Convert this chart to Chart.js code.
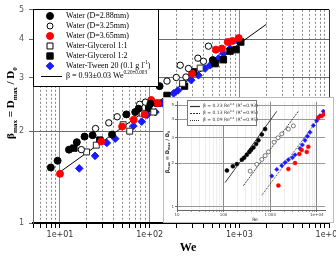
<!DOCTYPE html>
<html>
<head>
<meta charset="utf-8">
<script src="https://cdn.jsdelivr.net/npm/chart.js"></script>
<style>
  html, body { margin: 0; padding: 0; background: #fff; }
  #wrap { position: relative; width: 336px; height: 256px; overflow: hidden; }
  #main { position: absolute; left: 0; top: 0; }
  #inset { position: absolute; left: 163px; top: 97px; }
</style>
</head>
<body>
<div id="wrap">
  <canvas id="main" width="336" height="256"></canvas>
  <canvas id="inset" width="171" height="126"></canvas>
</div>
<script>
// ---- main chart data (We vs beta) ----
const weWater288 = [7.9, 9.4, 12.6, 15.4, 18.8, 23.1, 38, 55, 69, 75.5, 102, 129, 506]
const betaWater288 = [1.52, 1.60, 1.74, 1.84, 1.92, 1.94, 1.95, 2.27, 2.31, 2.37, 2.46, 2.81, 3.42]
const weWater325 = [17.3, 24.9, 35, 43.4, 77.4, 89.6, 156, 198, 219, 254, 271, 345, 398, 452]
const betaWater325 = [1.74, 2.04, 2.13, 2.23, 2.45, 2.49, 2.92, 3.00, 3.29, 3.01, 3.21, 3.47, 3.39, 3.80]
const weWater365 = [10, 28.8, 49.3, 66.4, 87.9, 104, 123, 296, 547, 637, 743, 836, 984]
const betaWater365 = [1.45, 1.85, 2.07, 2.18, 2.27, 2.53, 2.47, 3.09, 3.70, 3.73, 3.92, 3.95, 4.04]
const weGly11 = [19.8, 25.4, 50.6, 59.9, 82.4, 111, 233, 366]
const betaGly11 = [1.71, 1.80, 2.10, 2.00, 2.29, 2.31, 2.87, 3.22]
const weGly12 = [14.3, 27.8, 97.5, 123, 156, 245, 308, 537, 664, 788, 918, 1038]
const betaGly12 = [1.76, 1.87, 2.37, 2.47, 2.62, 2.81, 3.13, 3.33, 3.43, 3.66, 3.70, 3.92]
const weTween = [16.4, 24.6, 33.3, 41.3, 65.9, 81.5, 93.6, 116, 139, 185, 207, 239, 291, 350, 416, 473, 585, 664, 788, 975]
const betaTween = [1.51, 1.66, 1.83, 1.89, 2.08, 2.15, 2.26, 2.31, 2.47, 2.66, 2.72, 2.83, 2.94, 3.05, 3.21, 3.29, 3.46, 3.59, 3.73, 3.94]
const weFit = [10, 2000]
const betaFit = [1.47, 4.48]

const xMajor = [10, 100, 1000, 10000]
const xTickLabels = ['1e+01', '1e+02', '1e+03', '1e+04']
const yTicks = [1, 2, 3, 4, 5]

// ---- inset data (Re vs beta) ----
const reGroup1 = [118, 158, 193, 247, 276, 315, 359, 390, 437, 499, 558, 661, 778]
const betaGroup1 = [1.78, 1.90, 1.97, 2.11, 2.18, 2.28, 2.39, 2.47, 2.56, 2.71, 2.87, 3.15, 3.43]
const reGroup2 = [372, 516, 661, 778, 915, 1211, 1474, 1770, 2455, 3140]
const betaGroup2 = [1.76, 1.96, 2.12, 2.25, 2.39, 2.79, 2.99, 3.18, 3.43, 3.61]
const reBlue = [1081, 1384, 1770, 2084, 2455, 3000, 3412, 4365, 4900, 5585, 6300, 7145, 8414, 9954, 11730, 13770]
const betaBlue = [1.63, 1.81, 1.92, 2.02, 2.11, 2.18, 2.28, 2.52, 2.67, 2.87, 3.06, 3.26, 3.63, 3.92, 4.24, 4.55]
const reRed = [1500, 2455, 3412, 4217, 4753, 6081, 6577, 10770, 12730, 14500]
const betaRed = [1.40, 1.82, 2.00, 2.31, 2.46, 2.39, 2.59, 4.11, 4.22, 4.35]
const reLine1 = [108, 1384]
const betaLine1 = [1.47, 4.55]
const reLine2 = [267, 4018]
const betaLine2 = [1.40, 4.55]
const reLine3 = [661, 15000]
const betaLine3 = [1.20, 4.67]

const insetXMajor = [10, 100, 1000, 10000]
const insetXLabels = ['10', '100', '1 000', '1e+04']
const insetYTicks = [1, 2, 3, 4, 5]

const pts = (xs, ys) => xs.map((x, i) => ({x, y: ys[i]}))
const isMajor = v => xMajor.some(m => Math.abs(m - v) < 1e-6)

// minor ticks of every decade between lo and hi
function logTicks(lo, hi) {
  const out = []
  for (let d = Math.pow(10, Math.floor(Math.log10(lo))); d <= hi; d *= 10) {
    for (let k = 1; k < 10; k++) {
      const v = k * d
      if (v >= lo - 1e-9 && v <= hi + 1e-9) out.push(v)
    }
  }
  return out
}

// text with sub/superscripts
function richWidth(ctx, parts, size, family, weight) {
  let w = 0
  for (const p of parts) {
    ctx.font = (weight || '') + ' ' + (p.s ? size * 0.65 : size) + 'px ' + family
    w += ctx.measureText(p.t).width
  }
  return w
}
function drawRich(ctx, parts, x, y, size, family, weight) {
  let cx = x
  for (const p of parts) {
    ctx.font = (weight || '') + ' ' + (p.s ? size * 0.65 : size) + 'px ' + family
    const dy = p.s === 'sup' ? -size * 0.38 : p.s === 'sub' ? size * 0.28 : 0
    ctx.fillText(p.t, cx, y + dy)
    cx += ctx.measureText(p.t).width
  }
}

function marker(ctx, style, x, y, r, fill, stroke) {
  ctx.save()
  ctx.fillStyle = fill
  ctx.strokeStyle = stroke
  ctx.lineWidth = 1
  ctx.beginPath()
  if (style === 'circle') ctx.arc(x, y, r, 0, Math.PI * 2)
  else if (style === 'rect') { const s = r * Math.SQRT1_2; ctx.rect(x - s, y - s, 2 * s, 2 * s) }
  else { ctx.moveTo(x, y - r); ctx.lineTo(x + r, y); ctx.lineTo(x, y + r); ctx.lineTo(x - r, y); ctx.closePath() }
  ctx.fill()
  ctx.stroke()
  ctx.restore()
}

const serif = "'Liberation Serif', 'DejaVu Serif', serif"
const sans = "'DejaVu Sans', sans-serif"

const legendRows = [
  {style: 'circle', r: 3.5, fill: '#000', stroke: '#000', text: [{t: 'Water (D=2.88mm)'}]},
  {style: 'circle', r: 3, fill: '#fff', stroke: '#000', text: [{t: 'Water (D=3.25mm)'}]},
  {style: 'circle', r: 3.5, fill: '#f00', stroke: '#f00', text: [{t: 'Water (D=3.65mm)'}]},
  {style: 'rect', r: 4.2, fill: '#fff', stroke: '#000', text: [{t: 'Water-Glycerol 1:1'}]},
  {style: 'rect', r: 4.5, fill: '#000', stroke: '#000', text: [{t: 'Water-Glycerol 1:2'}]},
  {style: 'diamond', r: 3.8, fill: '#1a1aff', stroke: '#1a1aff', text: [{t: 'Water-Tween 20 (0.1 g l'}, {t: '-1', s: 'sup'}, {t: ')'}]},
  {style: 'line', text: [{t: 'β = 0.93±0.03 We'}, {t: '0.20±0.003', s: 'sup'}]}
]

const mainDecor = {
  id: 'mainDecor',
  afterDraw(chart) {
    const ctx = chart.ctx
    ctx.save()
    // legend box
    ctx.fillStyle = '#fff'
    ctx.fillRect(33, 9, 125, 77)
    ctx.strokeStyle = '#000'
    ctx.lineWidth = 1
    ctx.strokeRect(33.5, 9.5, 125, 77)
    ctx.textBaseline = 'middle'
    legendRows.forEach((row, i) => {
      const y = 16 + i * 10
      if (row.style === 'line') {
        ctx.beginPath(); ctx.moveTo(41, y + 0.5); ctx.lineTo(62, y + 0.5); ctx.strokeStyle = '#000'; ctx.stroke()
      } else {
        marker(ctx, row.style, 50, y, row.r, row.fill, row.stroke)
      }
      ctx.fillStyle = '#000'
      drawRich(ctx, row.text, 66, y, 8, serif)
    })
    // axis titles
    ctx.textBaseline = 'alphabetic'
    ctx.fillStyle = '#000'
    ctx.font = 'bold 12px ' + serif
    ctx.textAlign = 'center'
    ctx.fillText('We', 188, 251)
    ctx.textAlign = 'left'
    const yTitle = [{t: 'β'}, {t: 'max', s: 'sub'}, {t: ' = D'}, {t: 'max', s: 'sub'}, {t: ' / D'}, {t: '0', s: 'sub'}]
    const w = richWidth(ctx, yTitle, 11, serif, 'bold')
    ctx.translate(14, 103)
    ctx.rotate(-Math.PI / 2)
    drawRich(ctx, yTitle, -w / 2, 0, 11, serif, 'bold')
    ctx.restore()
  }
}

new Chart(document.getElementById('main'), {
  type: 'scatter',
  data: {
    datasets: [
      {label: 'Water (D=2.88mm)', data: pts(weWater288, betaWater288), pointStyle: 'circle', pointRadius: 3.5, backgroundColor: '#000', borderColor: '#000', borderWidth: 1},
      {label: 'Water (D=3.25mm)', data: pts(weWater325, betaWater325), pointStyle: 'circle', pointRadius: 3.2, backgroundColor: '#fff', borderColor: '#000', borderWidth: 1},
      {label: 'Water (D=3.65mm)', data: pts(weWater365, betaWater365), pointStyle: 'circle', pointRadius: 3.5, backgroundColor: '#f00', borderColor: '#f00', borderWidth: 1},
      {label: 'Water-Glycerol 1:1', data: pts(weGly11, betaGly11), pointStyle: 'rect', pointRadius: 4.2, backgroundColor: '#fff', borderColor: '#222', borderWidth: 1},
      {label: 'Water-Glycerol 1:2', data: pts(weGly12, betaGly12), pointStyle: 'rect', pointRadius: 4.5, backgroundColor: '#000', borderColor: '#000', borderWidth: 1},
      {label: 'Water-Tween 20', data: pts(weTween, betaTween), pointStyle: 'rectRot', pointRadius: 3.8, backgroundColor: '#1a1aff', borderColor: '#1a1aff', borderWidth: 1},
      {type: 'line', label: 'fit', data: pts(weFit, betaFit), borderColor: '#000', borderWidth: 1, pointRadius: 0, fill: false}
    ]
  },
  options: {
    responsive: false,
    animation: false,
    layout: {padding: {top: 9, right: 7, left: 0, bottom: 0}},
    plugins: {legend: {display: false}, tooltip: {enabled: false}},
    scales: {
      x: {
        type: 'logarithmic', min: 5, max: 10000,
        afterBuildTicks: s => { s.ticks = logTicks(5, 10000).map(v => ({value: v})) },
        afterFit: s => { s.height = 33; s.paddingLeft = 0; s.paddingRight = 0 },
        ticks: {
          autoSkip: false, maxRotation: 0, padding: 2, color: '#333',
          font: {family: sans, size: 8},
          callback: v => { const i = xMajor.findIndex(m => Math.abs(m - v) < 1e-6); return i >= 0 ? xTickLabels[i] : '' }
        },
        grid: {
          color: c => (c.tick && c.tick.value >= 9999) ? '#000' : '#6a6a6a',
          lineWidth: 0.8, tickLength: 5, tickColor: '#000', tickWidth: 1
        },
        border: {color: '#000', width: 2, dash: c => (c.tick && !isMajor(c.tick.value)) ? [2, 2] : []}
      },
      y: {
        type: 'logarithmic', min: 1, max: 5,
        afterBuildTicks: s => { s.ticks = yTicks.map(v => ({value: v})) },
        afterFit: s => { s.width = 33 },
        ticks: {padding: 5, color: '#555', font: {family: sans, size: 8}, callback: v => String(v)},
        grid: {
          color: c => (c.tick && c.tick.value === 5) ? '#000' : '#6a6a6a',
          lineWidth: 1, tickLength: 4, tickColor: '#666'
        },
        border: {color: '#666', width: 1}
      }
    }
  },
  plugins: [mainDecor]
})

// ---- inset ----
const insetLegend = [
  {dash: [], text: [{t: 'β = 0.23 Re'}, {t: '0.4', s: 'sup'}, {t: ' (R'}, {t: '2', s: 'sup'}, {t: '=0.93)'}]},
  {dash: [2, 1], text: [{t: 'β = 0.13 Re'}, {t: '0.4', s: 'sup'}, {t: ' (R'}, {t: '2', s: 'sup'}, {t: '=0.95)'}]},
  {dash: [1, 1], text: [{t: 'β = 0.09 Re'}, {t: '0.4', s: 'sup'}, {t: ' (R'}, {t: '2', s: 'sup'}, {t: '=0.95)'}]}
]

const insetDecor = {
  id: 'insetDecor',
  beforeDraw(chart) {
    const ctx = chart.ctx
    ctx.save()
    ctx.fillStyle = '#fff'
    ctx.fillRect(0, 0, chart.width, chart.height)
    ctx.restore()
  },
  afterDraw(chart) {
    const ctx = chart.ctx
    ctx.save()
    ctx.strokeStyle = '#bbb'
    ctx.lineWidth = 1
    ctx.strokeRect(0.5, 0.5, chart.width - 1, chart.height - 1)
    // legend
    ctx.fillStyle = '#fff'
    ctx.fillRect(24, 3, 69, 25)
    ctx.strokeStyle = '#777'
    ctx.strokeRect(24.5, 3.5, 69, 25)
    ctx.textBaseline = 'middle'
    insetLegend.forEach((row, i) => {
      const y = 9 + i * 7
      ctx.beginPath(); ctx.setLineDash(row.dash); ctx.moveTo(27, y + 0.5); ctx.lineTo(37, y + 0.5); ctx.strokeStyle = '#333'; ctx.lineWidth = 1.2; ctx.stroke()
      ctx.setLineDash([])
      ctx.fillStyle = '#333'
      drawRich(ctx, row.text, 40, y, 4.5, sans)
    })
    // titles
    ctx.fillStyle = '#222'
    ctx.textBaseline = 'alphabetic'
    ctx.textAlign = 'center'
    ctx.font = '4.5px ' + sans
    ctx.fillText('Re', 92, 124)
    ctx.textAlign = 'left'
    const t = [{t: 'β'}, {t: 'max', s: 'sub'}, {t: ' = D'}, {t: 'max', s: 'sub'}, {t: ' / D'}, {t: '0', s: 'sub'}]
    const w = richWidth(ctx, t, 5, sans, 'bold')
    ctx.translate(6, 55)
    ctx.rotate(-Math.PI / 2)
    drawRich(ctx, t, -w / 2, 0, 5, sans, 'bold')
    ctx.restore()
  }
}

const insetMajor = v => insetXMajor.some(m => Math.abs(m - v) < 1e-6)

new Chart(document.getElementById('inset'), {
  type: 'scatter',
  data: {
    datasets: [
      {data: pts(reGroup1, betaGroup1), pointStyle: 'circle', pointRadius: 2, backgroundColor: '#000', borderColor: '#000', borderWidth: 0.5},
      {data: pts(reGroup2, betaGroup2), pointStyle: 'circle', pointRadius: 2, backgroundColor: '#fff', borderColor: '#444', borderWidth: 0.7},
      {data: pts(reRed, betaRed), pointStyle: 'circle', pointRadius: 2, backgroundColor: '#f00', borderColor: '#f00', borderWidth: 0.5},
      {data: pts(reBlue, betaBlue), pointStyle: 'rectRot', pointRadius: 2.2, backgroundColor: '#1a1aff', borderColor: '#1a1aff', borderWidth: 0.5},
      {type: 'line', data: pts(reLine1, betaLine1), borderColor: '#222', borderWidth: 0.9, pointRadius: 0},
      {type: 'line', data: pts(reLine2, betaLine2), borderColor: '#222', borderWidth: 0.9, borderDash: [2, 1], pointRadius: 0},
      {type: 'line', data: pts(reLine3, betaLine3), borderColor: '#222', borderWidth: 0.9, borderDash: [1, 1], pointRadius: 0}
    ]
  },
  options: {
    responsive: false,
    animation: false,
    layout: {padding: {top: 3, right: 9, left: 0, bottom: 0}},
    plugins: {legend: {display: false}, tooltip: {enabled: false}},
    scales: {
      x: {
        type: 'logarithmic', min: 10, max: 15000,
        afterBuildTicks: s => { s.ticks = logTicks(10, 15000).map(v => ({value: v})) },
        afterFit: s => { s.height = 13; s.paddingLeft = 0; s.paddingRight = 0 },
        ticks: {
          autoSkip: false, maxRotation: 0, padding: 1, color: '#444', font: {family: sans, size: 4},
          callback: v => { const i = insetXMajor.findIndex(m => Math.abs(m - v) < 1e-6); return i >= 0 ? insetXLabels[i] : '' }
        },
        grid: {color: c => (c.tick && insetMajor(c.tick.value)) ? '#888' : '#e2e2e2', lineWidth: c => (c.tick && insetMajor(c.tick.value)) ? 1 : 0.6, tickLength: 2, tickColor: '#666'},
        border: {color: '#666', width: 1}
      },
      y: {
        type: 'logarithmic', min: 0.95, max: 5.3,
        afterBuildTicks: s => { s.ticks = insetYTicks.map(v => ({value: v})) },
        afterFit: s => { s.width = 14 },
        ticks: {padding: 1, color: '#444', font: {family: sans, size: 4}, callback: v => String(v)},
        grid: {color: '#999', lineWidth: 1, tickLength: 2, tickColor: '#666'},
        border: {color: '#666', width: 1}
      }
    }
  },
  plugins: [insetDecor]
})
</script>
</body>
</html>
